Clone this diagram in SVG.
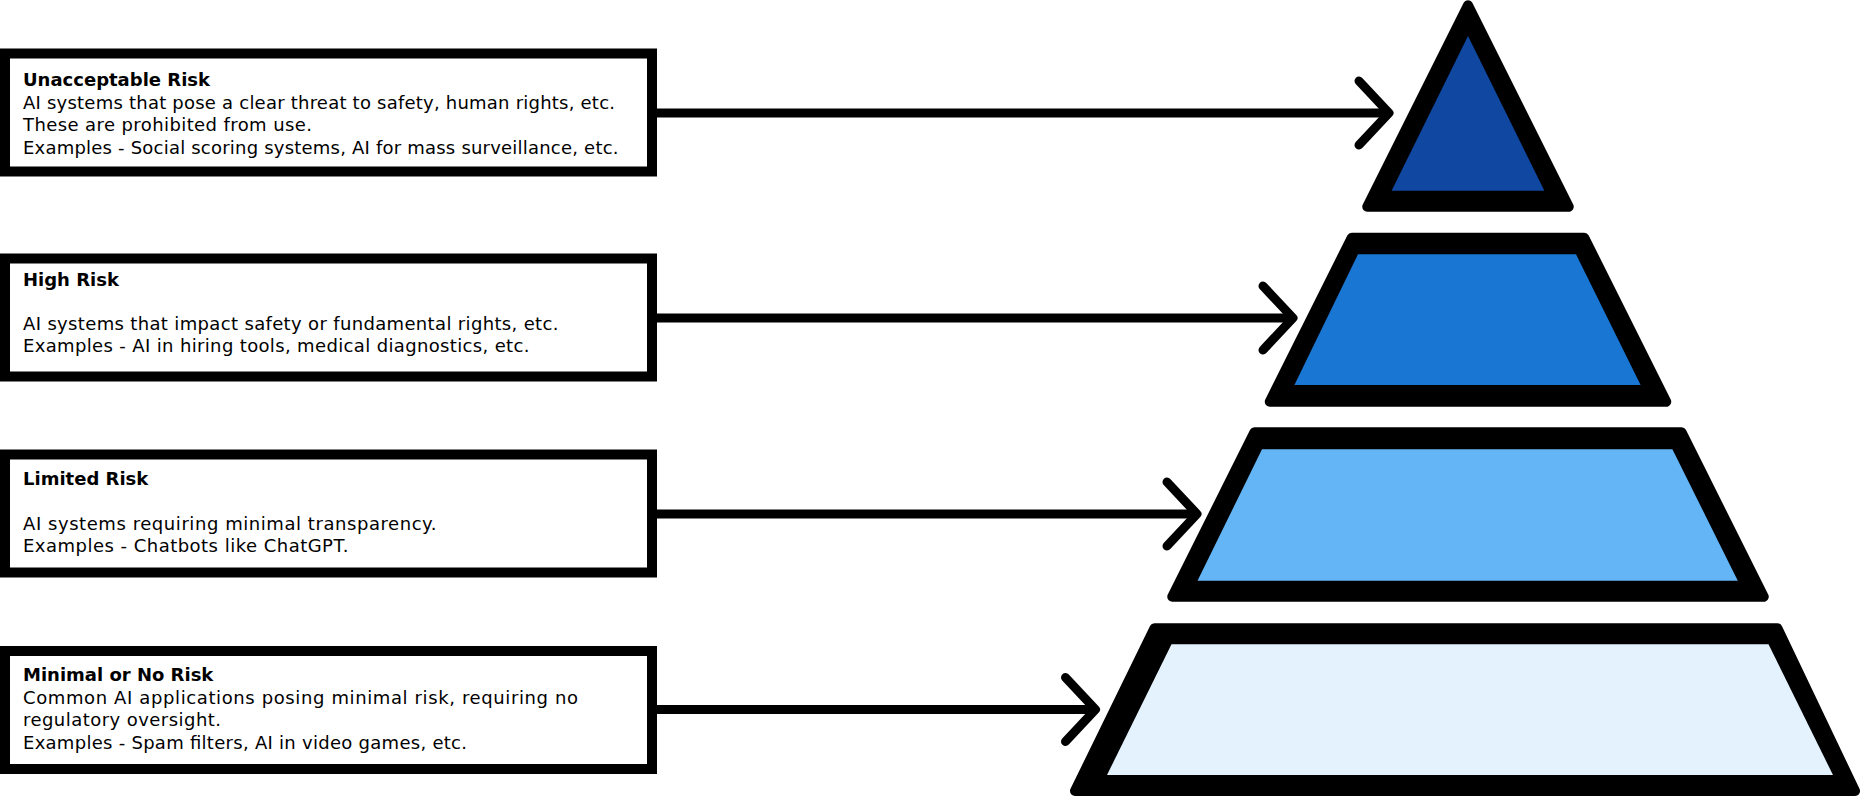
<svg xmlns="http://www.w3.org/2000/svg" width="1862" height="797" viewBox="0 0 1862 797">
  <defs>
    <style>
      .box { fill: #ffffff; stroke: #000000; stroke-width: 10; }
      .title { font-family: "DejaVu Sans", "Liberation Sans", sans-serif; font-weight: bold; font-size: 18px; fill: #000000; }
      .body { font-family: "DejaVu Sans", "Liberation Sans", sans-serif; font-size: 18px; fill: #000000; }
      .outer { fill: #000000; stroke: #000000; stroke-width: 10; stroke-linejoin: round; }
      .conn { stroke: #000000; stroke-width: 9; fill: none; marker-end: url(#chev); }
    </style>
    <marker id="chev" markerUnits="userSpaceOnUse" markerWidth="40" markerHeight="70" refX="0" refY="0" orient="auto" overflow="visible">
      <path d="M-30,-32 L0,0 L-30,32" fill="none" stroke="#000000" stroke-width="9" stroke-linecap="round" stroke-linejoin="round"/>
    </marker>
  </defs>

  <rect x="0" y="0" width="1862" height="797" fill="#ffffff"/>

  <g id="connectors">
    <line class="conn" x1="651" y1="113" x2="1389" y2="113"/>
    <line class="conn" x1="651" y1="318" x2="1293" y2="318"/>
    <line class="conn" x1="651" y1="514" x2="1197" y2="514"/>
    <line class="conn" x1="651" y1="709.5" x2="1095.5" y2="709.5"/>
  </g>

  <g id="box-unacceptable">
    <rect class="box" x="5" y="53.5" width="647" height="118"/>
    <text class="title" x="23" y="86">Unacceptable Risk</text>
    <text class="body" x="23" y="108.5" textLength="592" lengthAdjust="spacing">AI systems that pose a clear threat to safety, human rights, etc.</text>
    <text class="body" x="23" y="131" textLength="289" lengthAdjust="spacing">These are prohibited from use.</text>
    <text class="body" x="23" y="153.5" textLength="595.5" lengthAdjust="spacing">Examples - Social scoring systems, AI for mass surveillance, etc.</text>
  </g>

  <g id="box-high">
    <rect class="box" x="5" y="258.5" width="647" height="118"/>
    <text class="title" x="23" y="285.5">High Risk</text>
    <text class="body" x="23" y="329.5" textLength="535.5" lengthAdjust="spacing">AI systems that impact safety or fundamental rights, etc.</text>
    <text class="body" x="23" y="352" textLength="506.5" lengthAdjust="spacing">Examples - AI in hiring tools, medical diagnostics, etc.</text>
  </g>

  <g id="box-limited">
    <rect class="box" x="5" y="454.5" width="647" height="118"/>
    <text class="title" x="23" y="485">Limited Risk</text>
    <text class="body" x="23" y="529.5" textLength="413.5" lengthAdjust="spacing">AI systems requiring minimal transparency.</text>
    <text class="body" x="23" y="552" textLength="325.5" lengthAdjust="spacing">Examples - Chatbots like ChatGPT.</text>
  </g>

  <g id="box-minimal">
    <rect class="box" x="5" y="651" width="647" height="118"/>
    <text class="title" x="23" y="681">Minimal or No Risk</text>
    <text class="body" x="23" y="703.5" textLength="555" lengthAdjust="spacing">Common AI applications posing minimal risk, requiring no</text>
    <text class="body" x="23" y="726" textLength="198" lengthAdjust="spacing">regulatory oversight.</text>
    <text class="body" x="23" y="749" textLength="444" lengthAdjust="spacing">Examples - Spam filters, AI in video games, etc.</text>
  </g>

  <g id="tier-unacceptable">
    <polygon class="outer" points="1468,5.2 1568.75,206.7 1367.25,206.7"/>
    <polygon fill="#0F47A1" points="1468,36 1544.4,190.7 1391.6,190.7"/>
  </g>

  <g id="tier-high">
    <polygon class="outer" points="1351.75,237.7 1584.25,237.7 1666.25,401.7 1269.75,401.7"/>
    <polygon fill="#1976D2" points="1358,254.3 1576,254.3 1640.6,385 1294.4,385"/>
  </g>

  <g id="tier-limited">
    <polygon class="outer" points="1254.45,432.3 1681.55,432.3 1763.75,596.7 1172.25,596.7"/>
    <polygon fill="#64B5F6" points="1262,449.3 1672.4,449.3 1737.8,580.7 1197.5,580.7"/>
  </g>

  <g id="tier-minimal">
    <polygon class="outer" points="1154.5,628.3 1777.5,628.3 1855,791 1075,791"/>
    <polygon fill="#E3F2FD" points="1171.5,644.3 1768.5,644.3 1833,775 1107,775"/>
  </g>
</svg>
